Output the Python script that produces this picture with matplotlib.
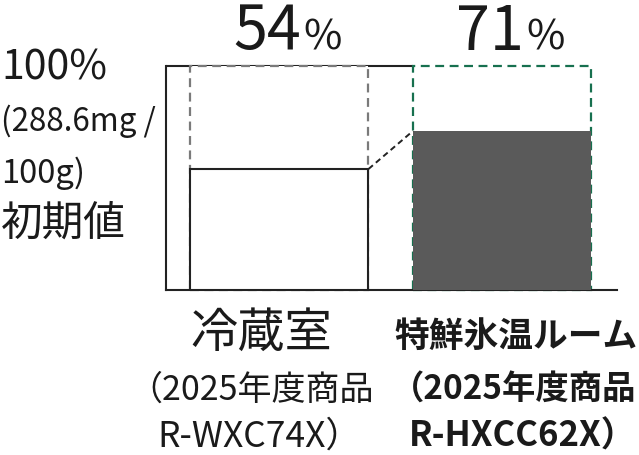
import matplotlib
matplotlib.use("Agg")
import matplotlib.pyplot as plt
from matplotlib.patches import Rectangle

plt.rcParams['font.family'] = ['Noto Sans CJK JP', 'DejaVu Sans']

# data
values = [54, 71]              # % of initial value
full = 100
pct_labels = ["54", "71"]
cat_lines = [
    ["冷蔵室", "（2025年度商品", "R-WXC74X）"],
    ["特鮮氷温ルーム", "（2025年度商品", "R-HXCC62X）"],
]
ylabel_lines = ["100%", "(288.6mg /", "100g)", "初期値"]

W, H = 639, 455
fig = plt.figure(figsize=(W / 100, H / 100), dpi=100)

def fx(px):
    return px / W

def fy(py):
    return 1 - py / H

# plot area: x 166..617 px, y 66..290 px
ax = fig.add_axes([fx(166), fy(290), fx(617) - fx(166), fy(66) - fy(290)])
ax.set_xlim(-0.51, 1.517)
ax.set_ylim(0, full)
ax.set_xticks([])
ax.set_yticks([])
for s in ["top", "right"]:
    ax.spines[s].set_visible(False)
for s in ["left", "bottom"]:
    ax.spines[s].set_linewidth(1.5)
    ax.spines[s].set_color("#222222")

bw = 0.8
x = [0, 1]
dash_cols = ["#7a7a7a", "#17704f"]

# solid top line at 100 between axis and second bar
ax.plot([-0.51, x[1] - bw / 2], [full, full], color="#222222", lw=1.5,
        clip_on=False, zorder=1, solid_capstyle="butt")

# dashed outlines up to 100%
for xi, c in zip(x, dash_cols):
    ax.add_patch(Rectangle((xi - bw / 2, 0), bw, full, fill=True, facecolor="white",
                           edgecolor=c, lw=1.6, ls=(0, (4, 2.5)), zorder=2,
                           clip_on=False))

# bars
ax.bar(x[0], values[0], width=bw, color="white", edgecolor="#222222", lw=1.5, zorder=3)
ax.bar(x[1], values[1], width=bw, color="#5a5a5a", edgecolor="none", zorder=3)

# connector
ax.plot([x[0] + bw / 2, x[1] - bw / 2], [values[0], values[1]], color="#222222",
        lw=1.4, ls=(0, (3, 2)), zorder=4)

# percentage labels above bars
centers_px = [279.5, 502]
for cx, lab in zip(centers_px, pct_labels):
    fig.text(fx(cx + 22), fy(49.5), lab, fontsize=44, ha="right", va="baseline",
             color="#1a1a1a")
    fig.text(fx(cx + 24), fy(49.5), "%", fontsize=30, ha="left", va="baseline",
             color="#1a1a1a")

# y label block
ybase = [79, 131, 183, 236]
ysize = [29.5, 22.5, 23.5, 30]
for t, b, s in zip(ylabel_lines, ybase, ysize):
    fig.text(fx(1), fy(b), t, fontsize=s, ha="left", va="baseline", color="#1a1a1a")

# category labels
cat_cx = [[261, 251, 259], [516.5, 514, 523]]
cat_base = [347, 400, 447]
cat_size = [[34, 24.5, 25.5], [25, 24, 25]]
weights = ["normal", "bold"]
for lines, cxs, sizes, w in zip(cat_lines, cat_cx, cat_size, weights):
    for t, cx, b, s in zip(lines, cxs, cat_base, sizes):
        fig.text(fx(cx), fy(b), t, fontsize=s, ha="center", va="baseline",
                 fontweight=w, color="#1a1a1a")

fig.savefig("out.png", dpi=100)
